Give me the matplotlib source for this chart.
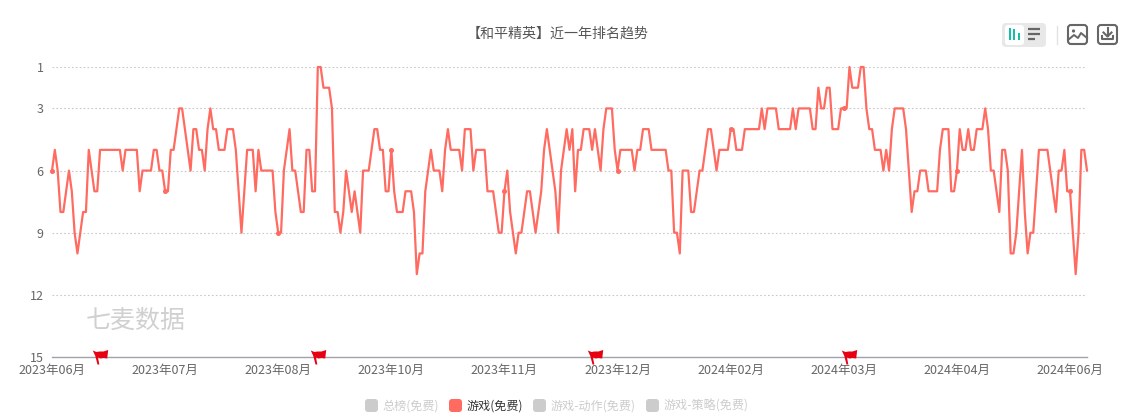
import matplotlib
matplotlib.use('Agg')
import matplotlib.pyplot as plt
from matplotlib.patches import FancyBboxPatch, Rectangle
from matplotlib.path import Path

plt.rcParams['font.family'] = ['Noto Sans CJK SC', 'DejaVu Sans']

# Dados
ranks_2023a = [6, 5, 6, 8, 8, 7, 6, 7, 9, 10, 9, 8, 8, 5, 6, 7, 7, 5, 5, 5, 5, 5, 5, 5, 5, 6, 5, 5, 5, 5,
               5, 7, 6, 6, 6, 6, 5, 5, 6, 6, 7, 7, 5, 5, 4, 3, 3, 4, 5, 6, 4, 4, 5, 5, 6, 4, 3, 4, 4, 5,
               5, 5, 4, 4, 4, 5, 7, 9, 7, 5, 5, 5, 7, 5, 6, 6, 6, 6, 6, 8, 9, 9, 6, 5, 4, 6, 6, 7, 8, 8,
               5, 5, 7, 7, 1, 1, 2, 2, 2, 3, 8, 8, 9, 8, 6, 7, 8, 7, 8, 9, 6, 6, 6, 5, 4, 4, 5, 5, 7, 7]
ranks_2023b = [5, 7, 8, 8, 8, 7, 7, 7, 8, 11, 10, 10, 7, 6, 5, 6, 6, 6, 7, 5, 4, 5, 5, 5, 5, 6, 4, 4, 4, 6,
               5, 5, 5, 5, 7, 7, 7, 8, 9, 9, 7, 6, 8, 9, 10, 9, 9, 8, 7, 7, 8, 9, 8, 7, 5, 4, 5, 6, 7, 9,
               6, 5, 4, 5, 4, 7, 5, 5, 4, 4, 4, 5, 4, 5, 6, 4, 3, 3, 3, 5, 6, 5, 5, 5, 5, 5, 6, 5, 5, 4,
               4, 4, 5, 5, 5, 5, 5, 5, 6, 6, 9, 9, 10, 6, 6, 6, 8, 8, 7, 6, 6, 5, 4, 4, 5, 6, 5, 5, 5, 5]
ranks_2024 = [4, 4, 5, 5, 5, 4, 4, 4, 4, 4, 4, 3, 4, 3, 3, 3, 3, 4, 4, 4, 4, 4, 3, 4, 3, 3, 3, 3, 3, 4,
              4, 2, 3, 3, 2, 2, 4, 4, 4, 3, 3, 3, 1, 2, 2, 2, 1, 1, 3, 4, 4, 5, 5, 5, 6, 5, 6, 4, 3, 3,
              3, 3, 4, 6, 8, 7, 7, 6, 6, 6, 7, 7, 7, 7, 5, 4, 4, 4, 7, 7, 6, 4, 5, 5, 4, 5, 5, 4, 4, 4,
              3, 4, 6, 6, 7, 8, 5, 5, 6, 10, 10, 9, 7, 5, 8, 10, 9, 9, 7, 5, 5, 5, 5, 6, 7, 8, 6, 6, 5, 7,
              7, 9, 11, 9, 5, 5, 6]
ranks = ranks_2023a + ranks_2023b + ranks_2024

x_labels = ['2023年06月', '2023年07月', '2023年08月', '2023年10月', '2023年11月',
            '2023年12月', '2024年02月', '2024年03月', '2024年04月', '2024年06月']
y_ticks = [1, 3, 6, 9, 12, 15]
flag_days = [17, 94, 192, 282]
legend_names = ['总榜(免费)', '游戏(免费)', '游戏-动作(免费)', '游戏-策略(免费)']

W, H = 1128, 418
COR = '#FF6B61'

fig = plt.figure(figsize=(W / 100, H / 100), dpi=100, facecolor='white')
ax = fig.add_axes([52 / W, 1 - 357 / H, (1087 - 52) / W, (357 - 67) / H])

dias = list(range(len(ranks)))
ax.plot(dias, ranks, color=COR, lw=1.6, clip_on=False, solid_joinstyle='round',
        marker='o', markersize=2.6, markevery=40, zorder=3)

ax.set_xlim(0, 366)
ax.set_ylim(15, 1)
ax.set_yticks(y_ticks)
ax.set_xticks(dias[::40])
ax.set_xticklabels(x_labels)
ax.tick_params(axis='both', length=0, labelsize=9, labelcolor='#666666')
ax.tick_params(axis='x', pad=5)
ax.tick_params(axis='y', pad=6)
ax.grid(axis='y', color='#C8C8C8', lw=0.8, linestyle=(0, (1.5, 2)))
for lado in ['top', 'left', 'right']:
    ax.spines[lado].set_visible(False)
ax.spines['bottom'].set_color('#A0A4AA')
ax.spines['bottom'].set_linewidth(1)

# Bandeiras vermelhas sobre o eixo (contorno em pixels, relativo ao ponto)
bandeira = Path([(-7.7, 7), (-4, 5.5), (-1, 6), (3, 6), (7.7, 7.5), (6.7, -1), (3, -0.5), (0, -1), (-2.5, 0),
                 (-1.2, -7), (-3, -7), (-5.2, 1.5), (-7.7, 7)])
ax.plot(flag_days, [15] * len(flag_days), linestyle='none', marker=bandeira, markersize=11.1,
        color='#E60012', markeredgewidth=0, clip_on=False, zorder=4)

# Camada em pixels para os elementos da interface
ui = fig.add_axes([0, 0, 1, 1], facecolor='none')
ui.set_xlim(0, W)
ui.set_ylim(H, 0)
ui.axis('off')

ui.text(558, 34, '【和平精英】近一年排名趋势', fontsize=10.1, color='#555555', ha='center', va='center')
ui.text(86, 320.5, '七麦数据', fontsize=18, color='#D0D0D0', ha='left', va='center')


def caixa(x0, y0, x1, y1, cor, raio=3):
    ui.add_patch(FancyBboxPatch((x0 + raio, y0 + raio), x1 - x0 - 2 * raio, y1 - y0 - 2 * raio,
                                boxstyle=f'round,pad={raio},rounding_size={raio}',
                                fc=cor, ec='none'))


# Legenda
posicoes = [(365, 382), (449, 467), (533, 551), (646, 664)]
for k, (nome, (xq, xt)) in enumerate(zip(legend_names, posicoes)):
    ativo = k == 1
    caixa(xq, 399, xq + 13, 412, COR if ativo else '#CCCCCC')
    ui.text(xt, 406, nome, fontsize=8.7, va='center', color='#333333' if ativo else '#CCCCCC')

# Botões do canto superior direito
caixa(1002, 23, 1046, 47, '#E8E8E8', raio=4)
caixa(1005, 25, 1024, 45, 'white', raio=3)
for xb, yb in [(1009.5, 28), (1014, 29), (1018.5, 33)]:
    ui.add_patch(Rectangle((xb - 1, yb), 2, 40 - yb, fc='#12BFA8', ec='none'))
for yb, xf in [(29, 1040), (34, 1040), (39, 1035)]:
    ui.plot([1028, xf], [yb, yb], color='#666666', lw=1.6, solid_capstyle='butt')
ui.plot([1056.5, 1056.5], [26, 44], color='#E2E2E2', lw=1)

for x0 in (1068, 1098):
    ui.add_patch(FancyBboxPatch((x0 + 3, 28), 13, 13, boxstyle='round,pad=3,rounding_size=3',
                                fc='white', ec='#666666', lw=1.5))
ui.add_patch(plt.Circle((1073.5, 31), 1.6, fc='#666666', ec='none'))
ui.plot([1068, 1074, 1078, 1081, 1087], [40, 35, 38, 33, 38], color='#666666', lw=1.4)
ui.plot([1107.5, 1107.5], [28, 36], color='#666666', lw=1.5)
ui.plot([1103.5, 1107.5, 1111.5], [32.5, 36.5, 32.5], color='#666666', lw=1.5)
ui.plot([1102, 1102, 1113, 1113], [36, 39, 39, 36], color='#666666', lw=1.5)

fig.savefig('out.png', dpi=100)
